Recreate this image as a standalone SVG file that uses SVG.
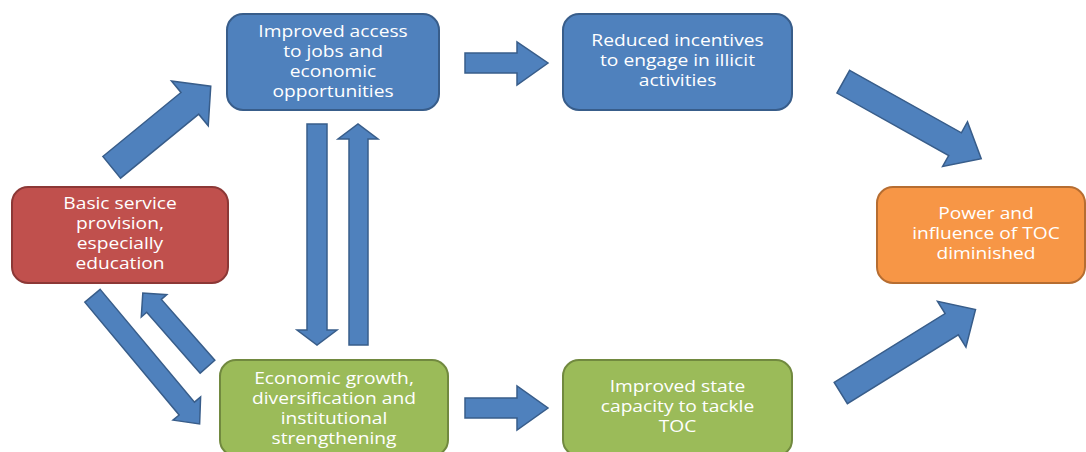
<svg xmlns="http://www.w3.org/2000/svg" width="1086" height="452" viewBox="0 0 1086 452">
<style>
.blue{fill:#4F81BD;stroke:#385D8A;stroke-width:2}
.red{fill:#C0504D;stroke:#8C3836;stroke-width:2}
.green{fill:#9BBB59;stroke:#71893F;stroke-width:2}
.orange{fill:#F79646;stroke:#B66D31;stroke-width:2}
.arr{fill:#4F81BD;stroke:#385D8A;stroke-width:1.5;stroke-linejoin:miter}
text{font-family:"Open Sans","Liberation Sans",sans-serif;font-size:16px;fill:#FFFFFF;text-anchor:middle}
</style>
<rect width="1086" height="452" fill="#FFFFFF"/>
<g id="connectors">
<g transform="translate(111.7,167.3) rotate(-39.3)"><polygon class="arr" points="0,-14 101,-14 101,-29 128,0 101,29 101,14 0,14"/></g>
<polygon class="arr" points="465,53 517,53 517,42 548,63 517,85 517,73 465,73"/>
<g transform="translate(843.3,81.7) rotate(29.2)"><polygon class="arr" points="0,-13 128,-13 128,-25.5 158,0 128,25.5 128,13 0,13"/></g>
<polygon class="arr" points="307,124 327,124 327,330 337,330 317,345 297,330 307,330"/>
<polygon class="arr" points="349,345 368,345 368,139 378,139 358,124 338,139 349,139"/>
<g transform="translate(92.5,295.8) rotate(50.1)"><polygon class="arr" points="0,-10 147,-10 147,-18 167,0 147,18 147,10 0,10"/></g>
<g transform="translate(207.5,366.7) rotate(-131.3)"><polygon class="arr" points="0,-9.75 81,-9.75 81,-17 98,0 81,17 81,9.75 0,9.75"/></g>
<polygon class="arr" points="465,398 517,398 517,386 548,408 517,430 517,418 465,418"/>
<g transform="translate(840.8,393) rotate(-31.8)"><polygon class="arr" points="0,-12.5 130.5,-12.5 130.5,-27 158.5,0 130.5,27 130.5,12.5 0,12.5"/></g>
</g>
<g id="node-access">
<rect class="blue" x="227" y="14" width="212" height="96" rx="16"/>
<g transform="translate(333,0) scale(1.2,1)">
<text x="0" y="37.5">Improved access</text>
<text x="0" y="57.5">to jobs and</text>
<text x="0" y="77.5">economic</text>
<text x="0" y="97.5">opportunities</text>
</g>
</g>
<g id="node-incentives">
<rect class="blue" x="563" y="14" width="229" height="96" rx="16"/>
<g transform="translate(677.5,0) scale(1.2,1)">
<text x="0" y="46.5">Reduced incentives</text>
<text x="0" y="66.5">to engage in illicit</text>
<text x="0" y="86.5">activities</text>
</g>
</g>
<g id="node-basic">
<rect class="red" x="12" y="187" width="216" height="96" rx="16"/>
<g transform="translate(120,0) scale(1.2,1)">
<text x="0" y="209.5">Basic service</text>
<text x="0" y="229.5">provision,</text>
<text x="0" y="249.5">especially</text>
<text x="0" y="269.5">education</text>
</g>
</g>
<g id="node-power">
<rect class="orange" x="877" y="187" width="208" height="96" rx="16"/>
<g transform="translate(986,0) scale(1.2,1)">
<text x="0" y="219.5">Power and</text>
<text x="0" y="239.5">influence of TOC</text>
<text x="0" y="259.5">diminished</text>
</g>
</g>
<g id="node-growth">
<rect class="green" x="220" y="360" width="228" height="96" rx="16"/>
<g transform="translate(334,0) scale(1.2,1)">
<text x="0" y="384">Economic growth,</text>
<text x="0" y="404">diversification and</text>
<text x="0" y="424">institutional</text>
<text x="0" y="444">strengthening</text>
</g>
</g>
<g id="node-state">
<rect class="green" x="563" y="360" width="229" height="96" rx="16"/>
<g transform="translate(677.5,0) scale(1.2,1)">
<text x="0" y="392.5">Improved state</text>
<text x="0" y="412.5">capacity to tackle</text>
<text x="0" y="432.5">TOC</text>
</g>
</g>
</svg>
